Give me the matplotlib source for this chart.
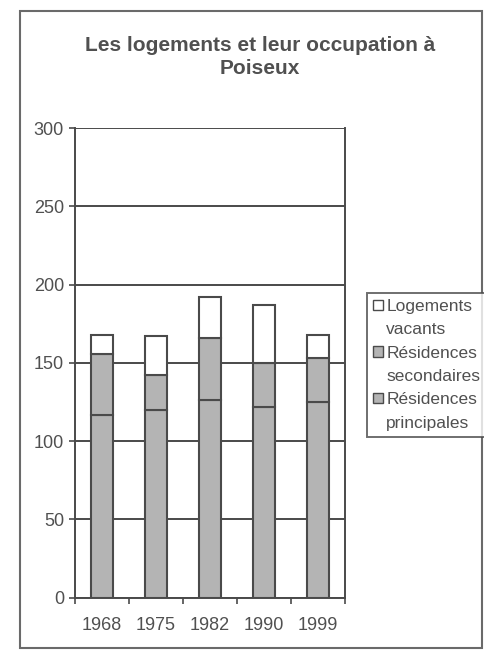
import matplotlib.pyplot as plt
import numpy as np
from matplotlib.patches import Patch, Rectangle

plt.rcParams['font.family'] = ['Liberation Sans', 'DejaVu Sans']

annees = ['1968', '1975', '1982', '1990', '1999']
principales = [117, 120, 126, 122, 125]
secondaires = [39, 22, 40, 28, 28]
vacants = [12, 25, 26, 37, 15]

gris_txt = '#505050'
gris_trait = '#4a4a4a'
fond_barre = '#b4b4b4'

fig = plt.figure(figsize=(4.85, 6.51), dpi=100)
ax = fig.add_axes([0.155, 0.082, 0.556, 0.721])

x = np.arange(len(annees))
bas2 = np.array(principales)
bas3 = bas2 + np.array(secondaires)
ax.bar(x, principales, 0.4, color=fond_barre, edgecolor=gris_trait, linewidth=1.5, zorder=3)
ax.bar(x, secondaires, 0.4, bottom=bas2, color=fond_barre, edgecolor=gris_trait, linewidth=1.5, zorder=3)
ax.bar(x, vacants, 0.4, bottom=bas3, color='white', edgecolor=gris_trait, linewidth=1.5, zorder=3)

ax.set_xlim(-0.5, len(annees) - 0.5)
ax.set_ylim(0, 300)
ax.set_yticks(np.arange(0, 301, 50))
ax.set_xticks(x)
ax.set_xticklabels(annees)
ax.set_xticks(np.arange(-0.5, len(annees)), minor=True)
ax.tick_params(axis='x', which='major', length=0, pad=14, labelsize=13, labelcolor=gris_txt)
ax.tick_params(axis='x', which='minor', length=4, color=gris_trait, width=1.2)
ax.tick_params(axis='y', length=4, color=gris_trait, width=1.2, labelsize=13, labelcolor=gris_txt, pad=4)
ax.yaxis.grid(True, color=gris_trait, linewidth=1.4, zorder=0)
ax.set_axisbelow(True)
for side in ['left', 'right', 'bottom']:
    ax.spines[side].set_color(gris_trait)
    ax.spines[side].set_linewidth(1.4)
ax.spines['top'].set_visible(False)

fig.text(0.536, 0.912, 'Les logements et leur occupation à\nPoiseux', ha='center', va='center',
         fontsize=15, fontweight='bold', color=gris_txt, linespacing=1.25)

# chaque libellé sur deux lignes : le carré reste à hauteur de la première
vide = Patch(facecolor='none', edgecolor='none')
poignees = [Patch(facecolor='white', edgecolor=gris_trait), vide,
            Patch(facecolor=fond_barre, edgecolor=gris_trait), vide,
            Patch(facecolor=fond_barre, edgecolor=gris_trait), vide]
etiquettes = ['Logements', 'vacants', 'Résidences', 'secondaires', 'Résidences', 'principales']
leg = fig.legend(poignees, etiquettes, loc='upper left', bbox_to_anchor=(0.757, 0.550),
                 borderaxespad=0, fancybox=False, fontsize=12.5, handlelength=0.55, handleheight=0.55,
                 handletextpad=0.2, borderpad=0.35, labelspacing=0.48)
leg.get_frame().set_edgecolor(gris_trait)
leg.get_frame().set_linewidth(1.4)
for t in leg.get_texts():
    t.set_color(gris_txt)

# cadre autour du graphique
fig.patches.append(Rectangle((20 / 485, 3 / 651), 462 / 485, 637 / 651, transform=fig.transFigure,
                             fill=False, edgecolor='#6a6a6a', linewidth=1.5))

fig.savefig('out.png', dpi=100)
